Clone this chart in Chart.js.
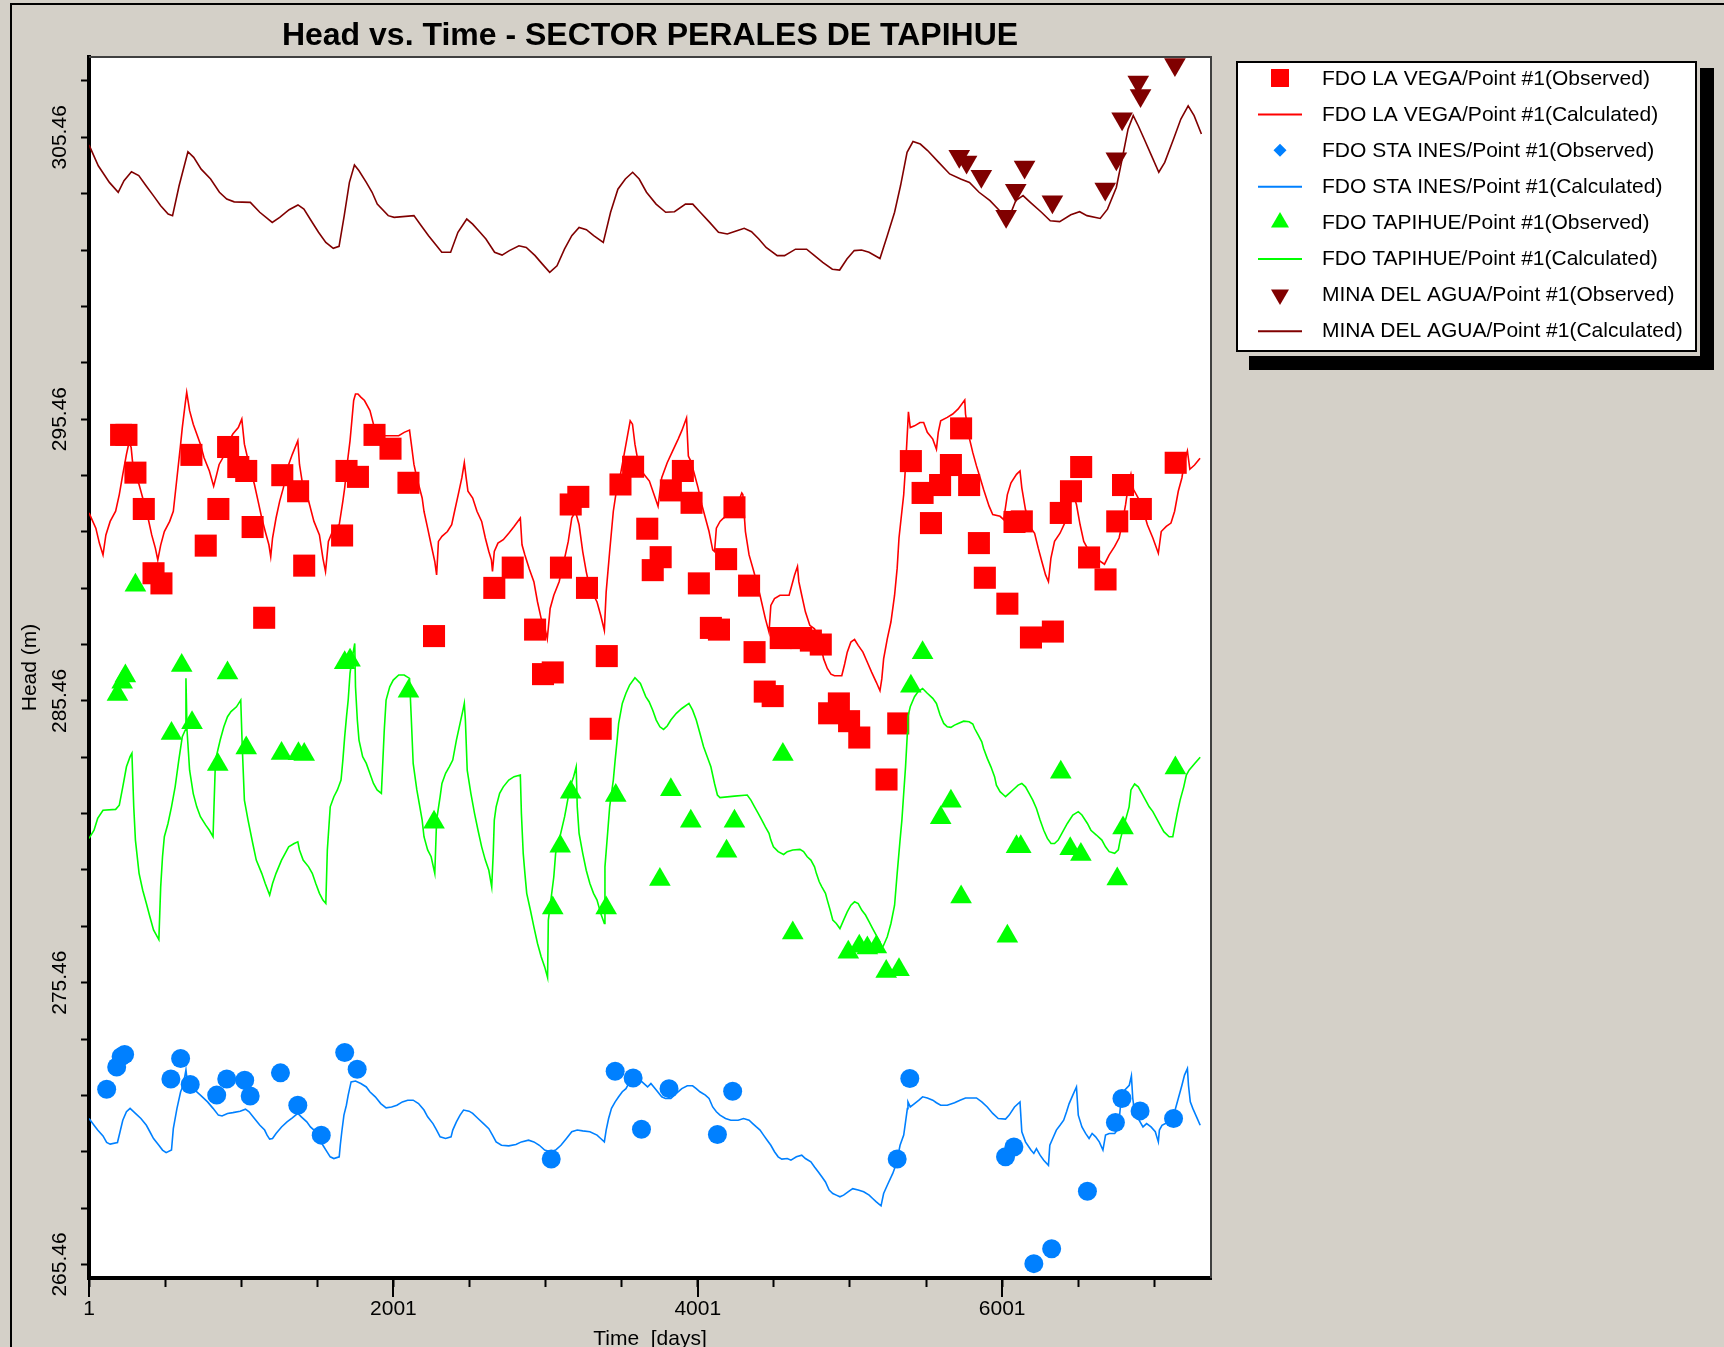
<!DOCTYPE html>
<html>
<head>
<meta charset="utf-8">
<script src="https://cdn.jsdelivr.net/npm/chart.js@4.4.1/dist/chart.umd.min.js"></script>
<style>
  html, body { margin: 0; padding: 0; background: #d4d0c8; }
  #wrap { position: relative; width: 1724px; height: 1347px; }
</style>
</head>
<body>
<div id="wrap"><canvas id="headChart"></canvas></div>
<script>
// axis ticks
const xTicks = [1, 501, 1001, 1501, 2001, 2501, 3001, 3501, 4001, 4501, 5001, 5501, 6001, 6501, 7001];
const xLabels = [1, 2001, 4001, 6001];
const yTicks = [265.46, 267.46, 269.46, 271.46, 273.46, 275.46, 277.46, 279.46, 281.46, 283.46, 285.46,
                287.46, 289.46, 291.46, 293.46, 295.46, 297.46, 299.46, 301.46, 303.46, 305.46, 307.46];
const yLabels = [265.46, 275.46, 285.46, 295.46, 305.46];

const seriesNames = [
  "FDO LA VEGA/Point #1(Observed)",
  "FDO LA VEGA/Point #1(Calculated)",
  "FDO STA INES/Point #1(Observed)",
  "FDO STA INES/Point #1(Calculated)",
  "FDO TAPIHUE/Point #1(Observed)",
  "FDO TAPIHUE/Point #1(Calculated)",
  "MINA DEL AGUA/Point #1(Observed)",
  "MINA DEL AGUA/Point #1(Calculated)"
];

// FDO LA VEGA
const vegaObsDays = [212, 247, 306, 361, 425, 477, 674, 768, 851, 915, 982, 1034, 1076, 1152, 1271, 1375, 1415,
  1664, 1693, 1768, 1877, 1982, 2100, 2268, 2664, 2785, 2932, 2984, 3048, 3102, 3166, 3216, 3273, 3363, 3403,
  3493, 3576, 3669, 3705, 3757, 3824, 3903, 3960, 4008, 4087, 4140, 4187, 4242, 4338, 4374, 4441, 4493, 4546,
  4613, 4680, 4744, 4809, 4864, 4928, 4995, 5062, 5241, 5318, 5401, 5478, 5533, 5593, 5664, 5731, 5784, 5848,
  5887, 6035, 6082, 6130, 6190, 6334, 6386, 6453, 6520, 6572, 6680, 6757, 6795, 6912, 7141];
const vegaObsHead = [294.90, 294.90, 293.56, 292.27, 289.99, 289.63, 294.19, 290.97, 292.27, 294.47, 293.76, 293.62,
  291.63, 288.41, 293.47, 292.90, 290.26, 291.33, 293.62, 293.41, 294.90, 294.41, 293.20, 287.76, 289.47, 290.19,
  287.99, 286.41, 286.47, 290.19, 292.43, 292.70, 289.47, 284.47, 287.05, 293.14, 293.77, 291.57, 290.10, 290.56,
  292.93, 293.62, 292.49, 289.63, 288.05, 287.99, 290.49, 292.33, 289.55, 287.19, 285.79, 285.63, 287.69, 287.69,
  287.69, 287.60, 287.46, 285.02, 285.37, 284.74, 284.16, 282.67, 284.66, 293.97, 292.84, 291.77, 293.12, 293.83,
  295.13, 293.12, 291.06, 289.83, 288.91, 291.81, 291.83, 287.71, 287.92, 292.13, 292.90, 293.76, 290.55, 289.77,
  291.83, 293.12, 292.27, 293.91];
const vegaCalcDays = [1, 46, 69, 93, 112, 140, 176, 200, 223, 247, 264, 278, 294, 330, 354, 389, 413, 437, 453, 472,
  496, 531, 555, 579, 603, 614, 633, 643, 662, 686, 709, 733, 757, 792, 820, 840, 856, 887, 922, 946, 982, 1005,
  1022, 1053, 1088, 1112, 1136, 1159, 1183, 1195, 1207, 1230, 1254, 1278, 1313, 1337, 1373, 1384, 1408, 1444, 1479,
  1515, 1538, 1555, 1574, 1610, 1645, 1669, 1681, 1697, 1716, 1728, 1740, 1752, 1768, 1787, 1811, 1847, 1870, 1906,
  1941, 2000, 2036, 2072, 2107, 2119, 2136, 2155, 2190, 2202, 2226, 2249, 2273, 2285, 2297, 2320, 2356, 2384, 2403,
  2427, 2451, 2467, 2479, 2491, 2522, 2550, 2581, 2605, 2628, 2645, 2652, 2664, 2688, 2723, 2759, 2794, 2835, 2846,
  2865, 2894, 2924, 2948, 2972, 2995, 3012, 3031, 3055, 3090, 3126, 3150, 3173, 3197, 3221, 3245, 3268, 3292, 3316,
  3339, 3363, 3387, 3399, 3422, 3446, 3469, 3493, 3517, 3541, 3557, 3572, 3588, 3612, 3647, 3683, 3740, 3764, 3800,
  3836, 3872, 3896, 3927, 3939, 3955, 3979, 4003, 4027, 4051, 4075, 4099, 4111, 4123, 4147, 4171, 4206, 4254, 4290,
  4297, 4314, 4338, 4369, 4410, 4445, 4469, 4481, 4505, 4541, 4601, 4637, 4656, 4665, 4684, 4708, 4737, 4768, 4804,
  4828, 4852, 4876, 4899, 4947, 4966, 4983, 5007, 5031, 5055, 5086, 5115, 5143, 5174, 5198, 5210, 5222, 5246, 5270,
  5294, 5311, 5323, 5342, 5354, 5368, 5378, 5385, 5397, 5425, 5461, 5485, 5509, 5545, 5569, 5581, 5597, 5640, 5676,
  5712, 5755, 5760, 5784, 5808, 5832, 5856, 5879, 5915, 5939, 5987, 6011, 6035, 6059, 6095, 6118, 6130, 6154, 6190,
  6214, 6238, 6262, 6286, 6305, 6321, 6345, 6381, 6417, 6441, 6465, 6489, 6513, 6537, 6561, 6597, 6632, 6673, 6704,
  6740, 6769, 6788, 6812, 6831, 6847, 6864, 6895, 6926, 6955, 6991, 7027, 7046, 7079, 7110, 7134, 7158, 7182, 7199,
  7218, 7234, 7265, 7301];
const vegaCalcHead = [292.13, 291.59, 291.06, 290.64, 291.35, 291.83, 292.19, 292.78, 293.50, 294.21, 294.63, 294.45,
  293.56, 293.14, 292.66, 291.95, 291.35, 290.88, 290.46, 290.99, 291.47, 291.83, 292.19, 293.38, 294.57, 295.16,
  296.00, 296.41, 295.76, 295.28, 294.93, 294.57, 294.09, 293.62, 293.08, 293.50, 293.85, 294.15, 294.69, 294.93,
  295.16, 295.46, 294.57, 293.85, 293.14, 292.55, 291.95, 291.47, 291.00, 290.58, 291.24, 291.95, 292.55, 293.02,
  293.85, 294.21, 294.69, 293.85, 293.02, 292.55, 291.83, 291.35, 290.52, 290.05, 291.12, 291.59, 291.71, 292.55,
  293.02, 293.85, 294.69, 295.40, 296.12, 296.35, 296.35, 296.24, 296.12, 295.76, 295.28, 295.05, 294.87, 294.87,
  294.87, 294.99, 295.07, 294.57, 293.85, 293.38, 292.66, 292.19, 291.59, 291.00, 290.40, 289.93, 291.12, 291.30,
  291.47, 291.71, 292.19, 292.78, 293.38, 293.91, 293.38, 292.90, 292.66, 292.19, 291.83, 291.24, 290.76, 290.46,
  290.05, 290.76, 291.06, 291.18, 291.41, 291.65, 291.95, 291.00, 290.64, 290.14, 289.69, 288.97, 288.38, 288.08,
  287.66, 288.74, 289.21, 289.69, 290.52, 291.12, 291.95, 292.19, 291.71, 290.76, 290.05, 289.45, 289.21, 288.97,
  288.50, 287.96, 289.33, 290.76, 292.19, 293.02, 293.50, 294.21, 294.93, 295.40, 295.28, 294.57, 293.85, 293.50,
  293.26, 292.37, 293.38, 293.91, 294.33, 294.75, 295.05, 295.50, 294.15, 293.97, 293.50, 293.02, 292.43, 291.95,
  291.47, 290.82, 290.76, 291.59, 291.83, 291.95, 292.07, 292.31, 292.84, 292.78, 291.47, 290.64, 290.05, 289.21,
  288.38, 287.90, 288.85, 289.09, 289.21, 289.21, 289.93, 290.23, 289.69, 289.21, 288.62, 288.14, 288.02, 287.55,
  286.95, 286.61, 286.41, 286.35, 286.35, 286.77, 287.19, 287.55, 287.64, 287.43, 287.19, 286.83, 286.48, 286.12,
  285.82, 286.24, 286.95, 287.66, 288.26, 289.21, 290.17, 291.24, 292.19, 292.78, 293.97, 294.99, 295.72, 295.16,
  295.22, 295.34, 295.34, 294.99, 294.75, 294.39, 294.99, 295.40, 295.52, 295.64, 295.82, 296.14, 295.64, 294.81,
  294.27, 293.80, 293.38, 292.96, 292.37, 292.07, 292.01, 291.89, 292.78, 293.20, 293.50, 293.62, 293.02, 292.25,
  291.59, 291.41, 290.88, 290.40, 289.93, 289.69, 290.52, 291.12, 291.41, 291.83, 292.37, 292.84, 292.43, 291.71,
  291.12, 290.88, 290.70, 290.46, 290.31, 290.64, 290.94, 291.24, 291.71, 292.43, 293.14, 293.50, 292.96, 292.66,
  292.25, 291.71, 291.24, 290.70, 291.47, 291.65, 291.77, 292.19, 292.90, 293.38, 293.97, 294.33, 293.68, 293.83,
  294.07];

// FDO STA INES
const inesObsDays = [117, 183, 212, 235, 539, 603, 666, 840, 906, 1024, 1060, 1259, 1373, 1527, 1681, 1763, 3038,
  3458, 3576, 3631, 3812, 4130, 4230, 5311, 5394, 6023, 6078, 6209, 6326, 6561, 6745, 6788, 6907, 7127];
const inesObsHead = [271.68, 272.47, 272.83, 272.91, 272.04, 272.77, 271.85, 271.47, 272.04, 272.00, 271.44, 272.26,
  271.11, 270.05, 272.98, 272.39, 269.20, 272.32, 272.08, 270.26, 271.70, 270.07, 271.61, 269.20, 272.06, 269.28,
  269.63, 265.49, 266.02, 268.06, 270.50, 271.35, 270.91, 270.64];
const inesCalcDays = [1, 34, 58, 93, 117, 140, 188, 205, 223, 247, 271, 306, 342, 378, 401, 425, 460, 484, 508, 543,
  555, 579, 603, 619, 638, 650, 686, 733, 780, 816, 851, 875, 911, 946, 994, 1029, 1053, 1088, 1124, 1155, 1171, 1188,
  1207, 1230, 1266, 1302, 1337, 1373, 1396, 1432, 1456, 1479, 1515, 1538, 1562, 1586, 1610, 1645, 1652, 1662, 1676,
  1692, 1704, 1723, 1752, 1787, 1823, 1846, 1882, 1918, 1953, 1989, 2024, 2060, 2095, 2131, 2166, 2202, 2226, 2261,
  2285, 2308, 2344, 2380, 2391, 2415, 2439, 2462, 2498, 2522, 2557, 2593, 2628, 2652, 2676, 2711, 2759, 2806, 2842,
  2889, 2924, 2960, 2995, 3031, 3067, 3102, 3138, 3173, 3209, 3245, 3292, 3339, 3363, 3387, 3399, 3415, 3434, 3458,
  3481, 3505, 3529, 3553, 3576, 3600, 3635, 3671, 3693, 3728, 3764, 3788, 3824, 3860, 3896, 3932, 3967, 3991, 4015,
  4051, 4075, 4099, 4123, 4147, 4183, 4218, 4266, 4302, 4338, 4362, 4386, 4410, 4433, 4457, 4481, 4505, 4529, 4553,
  4589, 4613, 4649, 4684, 4708, 4744, 4768, 4792, 4816, 4840, 4864, 4888, 4911, 4935, 4959, 4995, 5019, 5055, 5091,
  5127, 5150, 5174, 5205, 5222, 5246, 5282, 5306, 5330, 5354, 5366, 5378, 5382, 5397, 5425, 5454, 5478, 5509, 5545,
  5569, 5597, 5640, 5688, 5724, 5760, 5832, 5867, 5903, 5939, 5975, 6023, 6047, 6082, 6118, 6130, 6154, 6190, 6209,
  6226, 6250, 6274, 6305, 6314, 6333, 6357, 6381, 6405, 6424, 6441, 6465, 6489, 6501, 6525, 6549, 6572, 6592, 6615,
  6639, 6663, 6680, 6704, 6740, 6764, 6783, 6807, 6836, 6850, 6859, 6871, 6895, 6926, 6950, 6979, 7007, 7027, 7034,
  7051, 7074, 7110, 7134, 7158, 7182, 7199, 7218, 7225, 7237, 7254, 7278, 7302];
const inesCalcHead = [270.64, 270.40, 270.23, 270.02, 269.79, 269.73, 269.79, 270.17, 270.58, 270.88, 271.00, 270.82,
  270.64, 270.40, 270.17, 269.93, 269.69, 269.52, 269.43, 269.52, 270.28, 271.00, 271.59, 271.80, 272.36, 271.80,
  271.70, 271.47, 271.23, 271.00, 270.76, 270.73, 270.82, 270.85, 270.90, 270.97, 270.88, 270.64, 270.40, 270.23,
  270.05, 269.91, 269.93, 270.11, 270.34, 270.52, 270.66, 270.82, 270.70, 270.52, 270.34, 270.23, 269.93, 269.69,
  269.48, 269.28, 269.22, 269.28, 269.69, 270.17, 270.76, 271.11, 271.47, 271.94, 271.97, 271.88, 271.76, 271.59,
  271.41, 271.17, 271.02, 271.05, 271.11, 271.23, 271.29, 271.29, 271.17, 270.94, 270.70, 270.46, 270.23, 269.99,
  269.93, 269.99, 270.23, 270.52, 270.76, 270.94, 270.90, 270.82, 270.64, 270.46, 270.28, 270.05, 269.81, 269.69,
  269.67, 269.72, 269.81, 269.87, 269.81, 269.69, 269.52, 269.46, 269.52, 269.69, 269.93, 270.17, 270.23, 270.20,
  270.17, 270.05, 269.93, 269.81, 270.23, 270.64, 271.00, 271.23, 271.41, 271.59, 271.70, 271.94, 272.06, 272.06,
  271.94, 271.76, 271.88, 271.65, 271.41, 271.35, 271.35, 271.53, 271.70, 271.80, 271.80, 271.70, 271.59, 271.47,
  271.35, 271.05, 270.88, 270.76, 270.64, 270.58, 270.58, 270.64, 270.58, 270.46, 270.34, 270.23, 270.05, 269.87,
  269.69, 269.46, 269.28, 269.20, 269.22, 269.16, 269.28, 269.34, 269.22, 269.10, 268.92, 268.75, 268.57, 268.39,
  268.10, 267.98, 267.92, 267.86, 267.92, 268.06, 268.15, 268.10, 268.04, 267.92, 267.80, 267.68, 267.54, 267.98,
  268.27, 268.69, 269.04, 269.69, 270.05, 270.52, 270.99, 271.23, 271.05, 271.17, 271.29, 271.41, 271.37, 271.29,
  271.20, 271.11, 271.11, 271.20, 271.29, 271.37, 271.37, 271.23, 271.05, 270.82, 270.64, 270.62, 270.76, 271.05,
  271.23, 270.17, 269.81, 269.52, 269.40, 269.57, 269.34, 269.16, 268.98, 269.69, 269.93, 270.23, 270.40, 270.58,
  270.88, 271.17, 271.47, 271.76, 270.76, 270.34, 270.11, 269.93, 270.11, 269.99, 269.81, 269.52, 270.05, 270.11,
  270.11, 270.28, 271.35, 271.65, 271.82, 272.15, 271.35, 270.88, 270.64, 270.34, 270.46, 270.34, 270.17, 269.81,
  270.23, 270.40, 270.46, 270.58, 270.88, 271.35, 271.82, 272.18, 272.41, 271.82, 271.23, 270.99, 270.70, 270.40];

// FDO TAPIHUE
const tapiObsDays = [188, 219, 240, 306, 543, 610, 678, 847, 911, 1034, 1266, 1377, 1415, 1681, 1716, 2100, 2268,
  3048, 3097, 3166, 3399, 3462, 3752, 3824, 3955, 4190, 4242, 4560, 4625, 4990, 5062, 5115, 5174, 5239, 5323, 5401,
  5478, 5597, 5664, 5731, 6035, 6095, 6123, 6386, 6448, 6518, 6757, 6795, 7139];
const tapiObsHead = [285.69, 286.12, 286.34, 289.56, 284.30, 286.72, 284.68, 283.20, 286.45, 283.79, 283.59, 283.58,
  283.56, 286.81, 286.90, 285.80, 281.15, 278.11, 280.30, 282.22, 278.11, 282.10, 279.12, 282.31, 281.19, 280.12,
  281.19, 283.56, 277.22, 276.54, 276.75, 276.69, 276.73, 275.86, 275.92, 285.98, 287.17, 281.31, 281.90, 278.50,
  277.11, 280.28, 280.28, 282.93, 280.21, 280.01, 279.14, 280.95, 283.08];
const tapiCalcDays = [1, 34, 58, 93, 176, 200, 223, 247, 271, 283, 295, 306, 330, 354, 378, 401, 425, 460, 472, 484,
  496, 520, 543, 567, 591, 614, 633, 638, 645, 662, 686, 709, 733, 768, 792, 816, 832, 863, 887, 911, 934, 970, 998,
  1008, 1022, 1046, 1077, 1100, 1136, 1159, 1188, 1207, 1230, 1266, 1290, 1313, 1349, 1373, 1384, 1408, 1444, 1468,
  1491, 1515, 1538, 1557, 1567, 1586, 1610, 1633, 1657, 1669, 1681, 1693, 1704, 1716, 1728, 1747, 1752, 1764, 1775,
  1799, 1823, 1846, 1870, 1894, 1922, 1929, 1941, 1953, 1977, 2000, 2036, 2072, 2107, 2119, 2131, 2155, 2190, 2202,
  2226, 2249, 2273, 2285, 2308, 2320, 2344, 2368, 2391, 2415, 2439, 2458, 2467, 2474, 2486, 2510, 2534, 2557, 2581,
  2605, 2628, 2647, 2657, 2664, 2676, 2699, 2723, 2759, 2794, 2835, 2842, 2854, 2865, 2877, 2901, 2924, 2948, 2972,
  2995, 3014, 3019, 3055, 3067, 3090, 3126, 3138, 3162, 3185, 3202, 3209, 3221, 3245, 3268, 3292, 3316, 3339, 3363,
  3387, 3391, 3410, 3422, 3434, 3446, 3458, 3469, 3481, 3505, 3529, 3553, 3588, 3624, 3659, 3681, 3705, 3728, 3752,
  3776, 3800, 3824, 3860, 3896, 3943, 3967, 3991, 4015, 4039, 4063, 4087, 4111, 4130, 4147, 4242, 4326, 4350, 4374,
  4398, 4422, 4445, 4469, 4481, 4498, 4529, 4565, 4589, 4625, 4672, 4696, 4720, 4744, 4768, 4780, 4799, 4816, 4840,
  4852, 4871, 4888, 4911, 4935, 4959, 4983, 5007, 5031, 5055, 5079, 5103, 5127, 5150, 5174, 5198, 5210, 5222, 5246,
  5270, 5294, 5311, 5330, 5342, 5354, 5366, 5378, 5382, 5397, 5425, 5449, 5478, 5509, 5545, 5569, 5593, 5617, 5640,
  5664, 5688, 5712, 5748, 5784, 5808, 5820, 5843, 5867, 5879, 5903, 5927, 5951, 5963, 5987, 6011, 6023, 6047, 6082,
  6106, 6130, 6154, 6178, 6202, 6226, 6250, 6274, 6298, 6322, 6345, 6369, 6393, 6429, 6465, 6501, 6525, 6561, 6584,
  6620, 6656, 6680, 6704, 6740, 6764, 6776, 6788, 6811, 6835, 6847, 6871, 6895, 6919, 6943, 6967, 6991, 7015, 7039,
  7063, 7098, 7122, 7134, 7151, 7170, 7194, 7211, 7230, 7266, 7302];
const tapiCalcHead = [280.58, 280.87, 281.29, 281.58, 281.61, 281.76, 282.41, 283.12, 283.48, 283.60, 281.70, 280.52,
  279.34, 278.74, 278.27, 277.80, 277.33, 276.99, 278.86, 279.93, 280.64, 281.11, 281.70, 282.41, 283.36, 284.19,
  284.42, 286.26, 284.42, 283.00, 282.17, 281.70, 281.35, 281.05, 280.87, 280.64, 283.36, 284.07, 284.54, 284.90,
  285.08, 285.25, 285.49, 283.83, 281.94, 281.23, 280.40, 279.81, 279.34, 278.98, 278.57, 278.98, 279.34, 279.81,
  280.05, 280.28, 280.40, 280.46, 280.17, 279.81, 279.57, 279.34, 278.98, 278.63, 278.39, 278.27, 280.17, 281.70,
  282.06, 282.30, 282.65, 283.36, 284.19, 284.90, 285.49, 286.44, 286.91, 287.50, 285.96, 284.78, 284.07, 283.48,
  283.24, 282.89, 282.53, 282.30, 282.18, 283.00, 284.42, 285.49, 285.96, 286.20, 286.38, 286.38, 286.26, 284.78,
  283.24, 282.30, 281.23, 280.64, 280.17, 279.93, 279.34, 281.23, 282.06, 282.53, 282.89, 283.12, 283.36, 284.07,
  284.66, 285.13, 285.37, 284.78, 283.00, 282.18, 281.47, 280.87, 280.28, 279.81, 279.45, 278.86, 280.05, 281.23,
  281.70, 282.18, 282.41, 282.65, 282.77, 282.83, 281.47, 280.05, 279.34, 278.63, 278.04, 277.44, 276.85, 276.38,
  276.02, 275.64, 277.68, 279.22, 280.05, 280.52, 281.35, 281.70, 282.41, 282.77, 283.12, 281.70, 280.76, 280.05,
  279.45, 278.98, 278.63, 278.39, 277.92, 277.56, 279.57, 280.87, 281.70, 282.18, 282.65, 283.36, 283.95, 284.66,
  285.37, 285.73, 286.02, 286.28, 286.08, 285.61, 285.43, 285.13, 284.78, 284.54, 284.45, 284.57, 284.78, 285.02,
  285.19, 285.37, 285.13, 284.78, 284.31, 283.83, 283.48, 283.12, 282.53, 282.12, 282.03, 282.08, 282.12, 281.94,
  281.70, 281.47, 281.23, 280.99, 280.76, 280.52, 280.28, 280.11, 280.01, 280.11, 280.17, 280.19, 280.11, 279.93,
  279.81, 279.57, 279.34, 279.04, 278.86, 278.63, 278.39, 278.03, 277.68, 277.56, 277.38, 277.68, 277.97, 278.21,
  278.33, 278.27, 278.03, 277.86, 277.62, 277.38, 277.14, 276.91, 276.67, 276.79, 277.09, 277.56, 278.21, 279.34,
  280.52, 281.23, 282.18, 283.12, 284.31, 284.90, 285.25, 285.61, 285.79, 285.90, 285.73, 285.55, 285.37, 284.96,
  284.66, 284.54, 284.52, 284.60, 284.66, 284.74, 284.72, 284.64, 284.48, 284.25, 284.01, 283.77, 283.42, 283.12,
  282.77, 282.47, 282.24, 282.12, 282.06, 282.18, 282.35, 282.47, 282.53, 282.41, 282.18, 281.94, 281.64, 281.23,
  280.87, 280.58, 280.40, 280.40, 280.52, 280.76, 281.11, 281.41, 281.53, 281.41, 281.11, 280.87, 280.70, 280.52,
  280.28, 280.11, 280.05, 280.17, 280.52, 280.76, 281.23, 281.70, 282.30, 282.51, 282.41, 282.18, 281.94, 281.70,
  281.53, 281.29, 281.05, 280.82, 280.64, 280.64, 280.99, 281.47, 281.94, 282.41, 282.83, 283.01, 283.24, 283.46];

// MINA DEL AGUA
const minaObsDays = [5719, 5767, 5864, 6027, 6090, 6148, 6331, 6678, 6751, 6789, 6895, 6910, 7136];
const minaObsHead = [304.79, 304.58, 304.08, 302.66, 303.58, 304.41, 303.17, 303.63, 304.70, 306.12, 307.42, 306.94, 308.04];
const minaCalcDays = [1, 62, 135, 193, 231, 280, 328, 376, 424, 472, 521, 550, 593, 651, 689, 738, 800, 858, 906, 955,
  1061, 1123, 1205, 1254, 1316, 1374, 1413, 1461, 1509, 1557, 1606, 1644, 1678, 1712, 1745, 1774, 1823, 1861, 1895,
  1967, 2006, 2136, 2184, 2232, 2281, 2319, 2377, 2425, 2483, 2522, 2570, 2609, 2666, 2715, 2763, 2826, 2874, 2932,
  2980, 3028, 3076, 3125, 3173, 3221, 3269, 3317, 3380, 3428, 3476, 3525, 3573, 3616, 3664, 3727, 3790, 3848, 3920,
  3968, 4017, 4079, 4137, 4195, 4243, 4306, 4354, 4402, 4450, 4523, 4571, 4643, 4716, 4764, 4822, 4885, 4933, 4981,
  5029, 5077, 5126, 5198, 5246, 5294, 5333, 5376, 5415, 5463, 5511, 5584, 5656, 5728, 5786, 5849, 5921, 5994, 6042,
  6090, 6138, 6186, 6259, 6317, 6379, 6452, 6510, 6558, 6645, 6693, 6751, 6789, 6828, 6862, 6895, 6934, 6982, 7030,
  7069, 7127, 7175, 7223, 7262, 7310];
const minaCalcHead = [305.19, 304.45, 303.86, 303.51, 303.92, 304.24, 304.10, 303.74, 303.39, 303.03, 302.74, 302.68,
  303.74, 304.95, 304.75, 304.33, 303.98, 303.51, 303.27, 303.17, 303.15, 302.80, 302.44, 302.62, 302.89, 303.06,
  302.91, 302.50, 302.09, 301.73, 301.52, 301.59, 302.68, 303.86, 304.48, 304.28, 303.86, 303.51, 303.09, 302.68,
  302.62, 302.68, 302.32, 301.97, 301.64, 301.38, 301.38, 302.09, 302.56, 302.38, 302.09, 301.85, 301.38, 301.28,
  301.44, 301.61, 301.55, 301.26, 300.96, 300.67, 300.90, 301.49, 301.97, 302.26, 302.18, 301.97, 301.73, 302.80,
  303.62, 303.98, 304.22, 303.98, 303.51, 303.09, 302.80, 302.82, 303.09, 303.09, 302.80, 302.44, 302.09, 302.03,
  302.12, 302.23, 302.11, 301.85, 301.55, 301.26, 301.26, 301.49, 301.49, 301.28, 301.02, 300.78, 300.75, 301.14,
  301.44, 301.46, 301.38, 301.16, 301.97, 302.80, 303.74, 304.93, 305.31, 305.22, 304.99, 304.57, 304.16, 303.98,
  303.86, 303.51, 303.21, 302.80, 302.56, 303.21, 303.39, 303.15, 302.80, 302.50, 302.47, 302.71, 302.82, 302.68,
  302.58, 302.91, 303.68, 304.69, 305.75, 306.23, 305.87, 305.40, 304.81, 304.22, 304.57, 305.40, 306.11, 306.58,
  306.23, 305.58];

const bgGray = "#d4d0c8";
const fontFamily = "'Liberation Sans', Arial, sans-serif";

function pts(days, head) {
  return days.map((d, i) => ({ x: d, y: head[i] }));
}

function obsSet(label, days, head, color, style, radius, rotation, order) {
  return {
    label: label, data: pts(days, head), showLine: false,
    pointStyle: style, pointRadius: radius, pointHoverRadius: radius, pointRotation: rotation,
    pointBackgroundColor: color, pointBorderWidth: 0, borderColor: color, backgroundColor: color,
    order: order
  };
}

function calcSet(label, days, head, color, order) {
  return {
    label: label, data: pts(days, head), showLine: true, pointRadius: 0,
    borderColor: color, backgroundColor: color, borderWidth: 1.6, tension: 0, order: order
  };
}

// legend marker for each series, in legend order
const legendMarks = [
  { kind: "point", style: "rect", radius: 12.7, rotation: 0, color: "#ff0000" },
  { kind: "line", color: "#ff0000" },
  { kind: "point", style: "rectRot", radius: 6.5, rotation: 0, color: "#0080ff" },
  { kind: "line", color: "#0080ff" },
  { kind: "point", style: "triangle", radius: 10.4, rotation: 0, color: "#00ff00" },
  { kind: "line", color: "#00ff00" },
  { kind: "point", style: "triangle", radius: 10.4, rotation: 180, color: "#800000" },
  { kind: "line", color: "#800000" }
];

const framePlugin = {
  id: "framePlugin",
  beforeDraw(chart) {
    const { ctx, chartArea: a } = chart;
    ctx.save();
    ctx.fillStyle = bgGray;
    ctx.fillRect(0, 0, chart.width, chart.height);
    // outer window frame
    ctx.fillStyle = "#000";
    ctx.fillRect(10, 3, 2, chart.height - 3);
    ctx.fillRect(10, 3, chart.width - 10, 2);
    ctx.fillStyle = "#fff";
    ctx.fillRect(a.left, a.top, a.right - a.left, a.bottom - a.top);
    ctx.restore();
  },
  afterDraw(chart) {
    const { ctx, chartArea: a } = chart;
    const xs = chart.scales.x;
    ctx.save();
    // thin border top and right of plot
    ctx.strokeStyle = "#404040";
    ctx.lineWidth = 2;
    ctx.beginPath();
    ctx.moveTo(a.left, a.top);
    ctx.lineTo(a.right, a.top);
    ctx.lineTo(a.right, a.bottom);
    ctx.stroke();
    // longer marks for labelled x ticks
    ctx.strokeStyle = "#000";
    ctx.lineWidth = 2;
    xLabels.forEach(v => {
      const px = Math.round(xs.getPixelForValue(v));
      ctx.beginPath();
      ctx.moveTo(px, a.bottom);
      ctx.lineTo(px, a.bottom + 19);
      ctx.stroke();
    });

    // legend box with drop shadow
    ctx.fillStyle = "#000";
    ctx.fillRect(1249, 68, 465, 302);
    ctx.fillStyle = bgGray;
    ctx.fillRect(1232, 57, 468, 299);
    ctx.fillStyle = "#fff";
    ctx.fillRect(1236, 61, 461, 291);
    ctx.strokeStyle = "#000";
    ctx.lineWidth = 2;
    ctx.strokeRect(1237, 62, 459, 289);

    ctx.font = "21px " + fontFamily;
    ctx.textBaseline = "middle";
    ctx.textAlign = "left";
    chart.data.datasets.forEach((ds, i) => {
      const y = 78 + i * 36.1;
      const m = legendMarks[i];
      ctx.fillStyle = m.color;
      ctx.strokeStyle = m.color;
      if (m.kind === "line") {
        ctx.lineWidth = 2;
        ctx.beginPath();
        ctx.moveTo(1258, y + 0.5);
        ctx.lineTo(1302, y + 0.5);
        ctx.stroke();
      } else {
        Chart.helpers.drawPoint(ctx, { pointStyle: m.style, radius: m.radius, rotation: m.rotation, borderWidth: 0 }, 1280, y);
      }
      ctx.fillStyle = "#000";
      ctx.fillText(ds.label, 1322, y + 1);
    });
    ctx.restore();
  }
};

const datasets = [
  obsSet(seriesNames[0], vegaObsDays, vegaObsHead, "#ff0000", "rect", 15.6, 0, 7),
  calcSet(seriesNames[1], vegaCalcDays, vegaCalcHead, "#ff0000", 6),
  obsSet(seriesNames[2], inesObsDays, inesObsHead, "#0080ff", "circle", 9.5, 0, 5),
  calcSet(seriesNames[3], inesCalcDays, inesCalcHead, "#0080ff", 4),
  obsSet(seriesNames[4], tapiObsDays, tapiObsHead, "#00ff00", "triangle", 12.5, 0, 3),
  calcSet(seriesNames[5], tapiCalcDays, tapiCalcHead, "#00ff00", 2),
  obsSet(seriesNames[6], minaObsDays, minaObsHead, "#800000", "triangle", 12.5, 180, 1),
  calcSet(seriesNames[7], minaCalcDays, minaCalcHead, "#800000", 0)
];

new Chart(document.getElementById("headChart").getContext("2d"), {
  type: "line",
  data: { datasets: datasets },
  plugins: [framePlugin],
  options: {
    responsive: true,
    maintainAspectRatio: false,
    animation: false,
    events: [],
    layout: { padding: { left: 20, top: 0, right: 513, bottom: 0 } },
    plugins: {
      legend: { display: false },
      tooltip: { enabled: false },
      title: {
        display: true,
        text: "Head vs. Time - SECTOR PERALES DE TAPIHUE",
        color: "#000",
        fullSize: false,
        font: { family: fontFamily, size: 32, weight: "bold", lineHeight: 1.2 },
        padding: { top: 17, bottom: 1.6 }
      }
    },
    scales: {
      x: {
        type: "linear",
        min: 1,
        max: 7373,
        afterBuildTicks: s => { s.ticks = xTicks.map(v => ({ value: v })); },
        afterFit: s => { s.height = 69; },
        grid: { drawOnChartArea: false, drawTicks: true, tickLength: 9, tickColor: "#000", tickWidth: 2 },
        border: { display: true, color: "#000", width: 4 },
        ticks: {
          color: "#000",
          padding: 10,
          maxRotation: 0,
          autoSkip: false,
          font: { family: fontFamily, size: 21, lineHeight: 1.2 },
          callback: v => (xLabels.includes(v) ? String(v) : "")
        },
        title: {
          display: true, text: "Time  [days]", color: "#000",
          font: { family: fontFamily, size: 21, lineHeight: 1 }, padding: { top: 0, bottom: -3 }
        }
      },
      y: {
        type: "linear",
        min: 264.98,
        max: 308.31,
        afterBuildTicks: s => { s.ticks = yTicks.map(v => ({ value: v })); },
        afterFit: s => { s.width = 69; },
        grid: { drawOnChartArea: false, drawTicks: true, tickLength: 8, tickColor: "#000", tickWidth: 2 },
        border: { display: true, color: "#000", width: 4 },
        ticks: {
          color: "#000",
          padding: -11,
          minRotation: 90,
          maxRotation: 90,
          crossAlign: "center",
          autoSkip: false,
          font: { family: fontFamily, size: 21, lineHeight: 1.2 },
          callback: v => (yLabels.includes(v) ? v.toFixed(2) : "")
        },
        title: {
          display: true, text: "Head (m)", color: "#000",
          font: { family: fontFamily, size: 21, lineHeight: 1 }, padding: 0
        }
      }
    }
  }
});
</script>
</body>
</html>
